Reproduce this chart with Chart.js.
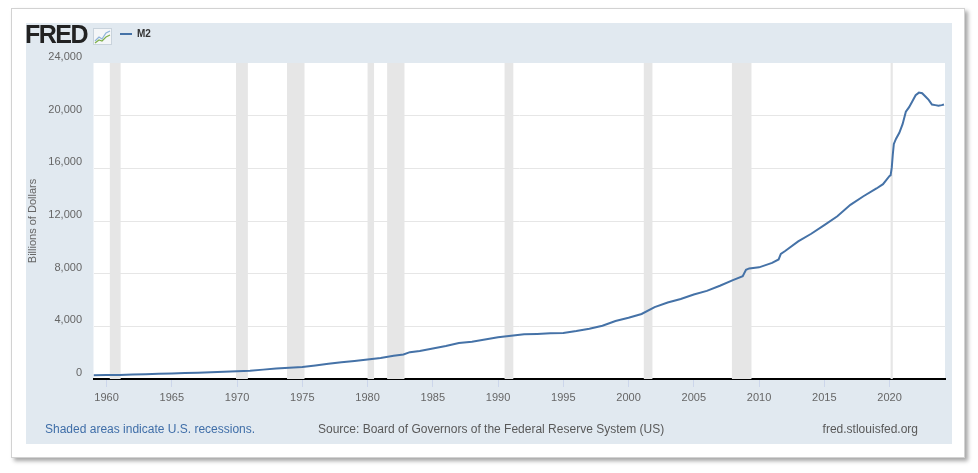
<!DOCTYPE html>
<html>
<head>
<meta charset="utf-8">
<script src="https://cdn.jsdelivr.net/npm/chart.js@4.4.1/dist/chart.umd.min.js"></script>
<style>
  body { margin: 0; background: #fff; font-family: "Liberation Sans", Arial, sans-serif; }
  #card { position: absolute; left: 11px; top: 8px; width: 952px; height: 448px; background: #fff;
          border: 1px solid #d2d2d2; box-shadow: 3px 3px 4px rgba(0,0,0,0.35); }
  #panel { position: absolute; left: 26px; top: 23px; width: 926px; height: 421px; background: #e1e9f0; }
  #wrap { position: absolute; left: 26px; top: 23px; width: 926px; height: 421px; }
  .logo { position: absolute; left: 25px; top: 20px; font-size: 25px; font-weight: bold; letter-spacing: -1.5px; color: #222; }
  .legend { position: absolute; left: 120px; top: 28px; font-size: 10px; font-weight: bold; color: #333; }
  .legend span { display: inline-block; width: 12px; height: 2px; background: #4572a7; vertical-align: middle; margin-right: 5px; }
  .foot { position: absolute; top: 422px; font-size: 12px; color: #595959; }
</style>
</head>
<body>
<div id="card"></div>
<div id="panel"></div>
<div id="wrap"><canvas id="m2-chart"></canvas></div>
<div class="logo">FRED</div>
<svg style="position:absolute;left:93px;top:28px" width="19" height="17" viewBox="0 0 19 17">
  <rect x="0.5" y="0.5" width="18" height="16" fill="#f4f6f8" stroke="#c9d3dc"/>
  <polyline points="2,13 6,9 9,11 13,5 17,3" fill="none" stroke="#8fb3d9" stroke-width="1.2"/>
  <polyline points="2,15 6,12 9,13 13,9 17,7" fill="none" stroke="#7fb04a" stroke-width="1.2"/>
</svg>
<div class="legend"><span></span>M2</div>
<div class="foot" style="left:45px;color:#3f6ea8">Shaded areas indicate U.S. recessions.</div>
<div class="foot" style="left:318px">Source: Board of Governors of the Federal Reserve System (US)</div>
<div class="foot" style="right:60px">fred.stlouisfed.org</div>
<script>
// M2, billions of dollars (x = decimal year)
var dates = [1959, 1960, 1961, 1962, 1963, 1964, 1965, 1966, 1967, 1968, 1969,
  1970, 1971, 1972, 1973, 1974, 1975, 1976, 1977, 1978, 1979,
  1980, 1981, 1982, 1982.75, 1983.25, 1984, 1985, 1986, 1987, 1988, 1989,
  1990, 1991, 1992, 1993, 1994, 1995, 1996, 1997, 1998, 1999,
  2000, 2001, 2002, 2003, 2004, 2005, 2006, 2007, 2008, 2008.75, 2009, 2009.25,
  2010, 2011, 2011.5, 2011.67, 2012, 2013, 2014, 2015, 2016, 2017, 2018, 2019, 2019.5,
  2020, 2020.08, 2020.17, 2020.25, 2020.33, 2020.5, 2020.75, 2021, 2021.25, 2021.5, 2021.75,
  2022, 2022.25, 2022.5, 2022.75, 2023, 2023.25, 2023.5, 2023.75, 2024, 2024.17];
var m2 = [286, 299, 313, 335, 362, 390, 420, 448, 474, 515, 556,
  590, 628, 712, 803, 856, 903, 1017, 1153, 1270, 1367,
  1474, 1601, 1758, 1860, 2040, 2135, 2316, 2502, 2740, 2836, 2995,
  3170, 3283, 3390, 3425, 3480, 3492, 3640, 3818, 4040, 4400,
  4655, 4940, 5460, 5810, 6075, 6420, 6690, 7080, 7510, 7800, 8300, 8400,
  8480, 8820, 9080, 9500, 9720, 10450, 11030, 11690, 12360, 13230, 13880, 14470, 14800,
  15420, 15470, 16050, 17050, 17850, 18250, 18700, 19350, 20300, 20650, 21100,
  21550, 21750, 21700, 21450, 21200, 20850, 20800, 20750, 20800, 20850];

// NBER recessions [start, end]
var recStart = [1960.25, 1969.92, 1973.83, 1980.0, 1981.5, 1990.5, 2001.17, 2007.92, 2020.08];
var recEnd   = [1961.08, 1970.83, 1975.17, 1980.5, 1982.83, 1991.17, 2001.83, 2009.42, 2020.25];

var xTicks = [1960, 1965, 1970, 1975, 1980, 1985, 1990, 1995, 2000, 2005, 2010, 2015, 2020];
var yTicks = [0, 4000, 8000, 12000, 16000, 20000, 24000];

var recessionBands = {
  id: 'recessionBands',
  beforeDatasetsDraw: function (chart) {
    var ctx = chart.ctx, area = chart.chartArea, x = chart.scales.x;
    ctx.save();
    ctx.fillStyle = '#e6e6e6';
    for (var i = 0; i < recStart.length; i++) {
      var a = x.getPixelForValue(recStart[i]);
      var b = x.getPixelForValue(recEnd[i]);
      ctx.fillRect(a, area.top, Math.max(b - a, 1.5), area.bottom - area.top);
    }
    ctx.restore();
  }
};

var plotBg = {
  id: 'plotBg',
  beforeDraw: function (chart) {
    var ctx = chart.ctx, a = chart.chartArea;
    ctx.save();
    ctx.fillStyle = '#fff';
    ctx.fillRect(a.left, a.top, a.right - a.left, a.bottom - a.top);
    ctx.restore();
  }
};

var ctx = document.getElementById('m2-chart').getContext('2d');
var m2Chart = new Chart(ctx, {
  type: 'line',
  data: {
    datasets: [{
      label: 'M2',
      data: dates.map(function (d, i) { return { x: d, y: m2[i] }; }),
      borderColor: '#4572a7',
      borderWidth: 2,
      pointRadius: 0,
      tension: 0
    }]
  },
  options: {
    responsive: true,
    maintainAspectRatio: false,
    animation: false,
    layout: { padding: { top: 40, right: 7, left: 0, bottom: 0 } },
    plugins: { legend: { display: false }, tooltip: { enabled: false } },
    scales: {
      x: {
        type: 'linear',
        min: 1959,
        max: 2024.25,
        afterBuildTicks: function (s) { s.ticks = xTicks.map(function (v) { return { value: v }; }); },
        afterFit: function (s) { s.height = 65; },
        border: { color: '#000', width: 2 },
        grid: { drawOnChartArea: false, drawTicks: true, tickLength: 8, color: '#ccd6eb' },
        ticks: {
          padding: 4,
          color: '#666',
          font: { family: 'Liberation Sans', size: 11 },
          callback: function (v) { return String(v); },
          maxRotation: 0
        }
      },
      y: {
        min: 0,
        max: 24000,
        afterBuildTicks: function (s) { s.ticks = yTicks.map(function (v) { return { value: v }; }); },
        afterFit: function (s) { s.width = 67.5; },
        border: { display: false },
        grid: {
          drawTicks: false,
          color: function (c) { return (c.tick && (c.tick.value === 0 || c.tick.value === 24000)) ? 'rgba(0,0,0,0)' : '#e6e6e6'; }
        },
        title: {
          display: true,
          text: 'Billions of Dollars',
          color: '#666',
          padding: 0,
          font: { family: 'Liberation Sans', size: 11 }
        },
        ticks: {
          padding: 11.5,
          labelOffset: -6,
          color: '#666',
          font: { family: 'Liberation Sans', size: 11 },
          callback: function (v) { return v.toLocaleString('en-US'); }
        }
      }
    }
  },
  plugins: [plotBg, recessionBands]
});
</script>
</body>
</html>
